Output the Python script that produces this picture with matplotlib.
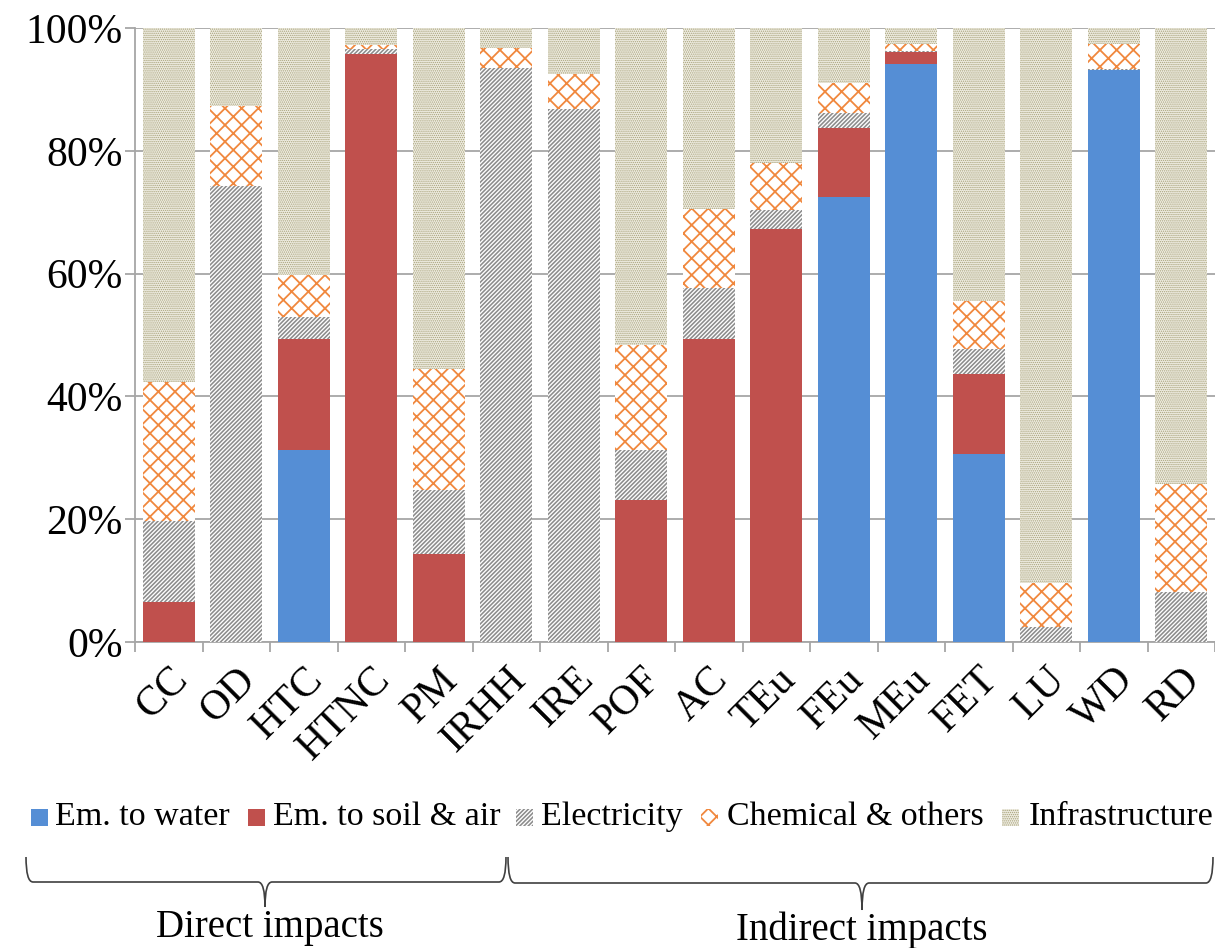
import matplotlib
matplotlib.use("Agg")
import matplotlib.pyplot as plt
import numpy as np
from matplotlib.path import Path
from matplotlib.patches import PathPatch, Rectangle

plt.rcParams['font.family'] = ['Liberation Serif', 'DejaVu Serif']

categories = ['CC', 'OD', 'HTC', 'HTNC', 'PM', 'IRHH', 'IRE', 'POF',
              'AC', 'TEu', 'FEu', 'MEu', 'FET', 'LU', 'WD', 'RD']

# contribution shares (%) per impact category
em_water = [0, 0, 31.2, 0, 0, 0, 0, 0, 0, 0, 72.4, 94.1, 30.7, 0, 93.2, 0]
em_soil_air = [6.5, 0, 18.2, 95.8, 14.3, 0, 0, 23.1, 49.4, 67.2, 11.3, 2.0, 12.9, 0, 0, 0]
electricity = [13.2, 74.3, 3.6, 0.8, 10.4, 93.5, 86.8, 8.1, 8.2, 3.2, 2.5, 0.2, 4.2, 2.4, 0.2, 8.1]
chemical = [22.6, 13.0, 6.7, 0.6, 19.7, 3.2, 5.7, 17.1, 13.0, 7.6, 4.9, 1.1, 7.8, 7.2, 4.0, 17.6]
infrastructure = [57.7, 12.7, 40.3, 2.8, 55.6, 3.3, 7.5, 51.7, 29.4, 22.0, 8.9, 2.6, 44.4, 90.4, 2.6, 74.3]

series_names = ['Em. to water', 'Em. to soil & air', 'Electricity',
                'Chemical & others', 'Infrastructure']
series_values = [em_water, em_soil_air, electricity, chemical, infrastructure]

styles = [
    dict(facecolor='#558ED5', edgecolor='#558ED5', hatch=None, hlw=1.0),
    dict(facecolor='#C0504D', edgecolor='#C0504D', hatch=None, hlw=1.0),
    dict(facecolor='white', edgecolor='#8C8C8C', hatch='////////', hlw=1.15),
    dict(facecolor='white', edgecolor='#F0883E', hatch='xx', hlw=1.3),
    dict(facecolor='#EEECE1', edgecolor='#A8A27A', hatch='........', hlw=0.65),
]

W, H = 1215, 948
fig = plt.figure(figsize=(W / 100, H / 100), dpi=100)
ax = fig.add_axes([135 / W, 1 - 642 / H, 1080 / W, 614 / H])

x = np.arange(len(categories))
bottom = np.zeros(len(categories))
for name, vals, st in zip(series_names, series_values, styles):
    vals = np.array(vals, dtype=float)
    with plt.rc_context({'hatch.linewidth': st['hlw']}):
        ax.bar(x, vals, width=0.77, bottom=bottom, facecolor=st['facecolor'],
               edgecolor=st['edgecolor'], hatch=st['hatch'], linewidth=0,
               zorder=3, label=name)
    bottom += vals

ax.set_xlim(-0.5, len(categories) - 0.5)
ax.set_ylim(0, 100)
ax.set_yticks(np.arange(0, 101, 20))
ax.set_yticklabels([f'{v}%' for v in range(0, 101, 20)])
ax.yaxis.grid(True, color='#A6A6A6', linewidth=1.3, zorder=0)
ax.set_axisbelow(True)

ax.set_xticks(x)
ax.set_xticklabels(categories, rotation=45, ha='right', va='top',
                   rotation_mode='anchor')
ax.set_xticks(np.arange(-0.5, len(categories)), minor=True)
ax.tick_params(axis='x', which='major', length=0, pad=13, labelsize=30)
ax.tick_params(axis='x', which='minor', length=7, color='#A6A6A6', width=1.3)
ax.tick_params(axis='y', length=7, color='#A6A6A6', width=1.3, pad=2, labelsize=30)

for side in ('top', 'right'):
    ax.spines[side].set_visible(False)
for side in ('left', 'bottom'):
    ax.spines[side].set_color('#A6A6A6')
    ax.spines[side].set_linewidth(1.3)

# legend row: small square keys followed by their labels
key_left = [31, 248, 516, 701, 1002]
text_left = [55, 273, 541, 727, 1029]
leg_y = 817
key = 17
for name, st, kx, tx in zip(series_names, styles, key_left, text_left):
    with plt.rc_context({'hatch.linewidth': st['hlw']}):
        fig.add_artist(Rectangle((kx / W, 1 - (leg_y + key / 2) / H), key / W, key / H,
                                 facecolor=st['facecolor'], edgecolor=st['edgecolor'],
                                 hatch=st['hatch'], linewidth=0,
                                 transform=fig.transFigure))
    fig.text(tx / W, 1 - leg_y / H, name, ha='left', va='center', fontsize=24.5)


def brace(x0, x1, xc, ytop, yline, ybot, r=7):
    pts = [(x0, ytop), (x0, yline), (x0 + r, yline),
           (xc - r, yline), (xc, yline), (xc, ybot),
           (xc, yline), (xc + r, yline),
           (x1 - r, yline), (x1, yline), (x1, ytop)]
    codes = [Path.MOVETO, Path.CURVE3, Path.CURVE3,
             Path.LINETO, Path.CURVE3, Path.CURVE3,
             Path.CURVE3, Path.CURVE3,
             Path.LINETO, Path.CURVE3, Path.CURVE3]
    verts = [(px / W, 1 - py / H) for px, py in pts]
    fig.add_artist(PathPatch(Path(verts, codes), facecolor='none',
                             edgecolor='#404040', linewidth=1.2,
                             transform=fig.transFigure))


brace(26, 506, 265, 857, 882, 907)
brace(508, 1213, 862, 857, 883, 910)

fig.text(270 / W, 1 - 928 / H, 'Direct impacts', ha='center', va='center', fontsize=28)
fig.text(862 / W, 1 - 930 / H, 'Indirect impacts', ha='center', va='center', fontsize=28)

fig.savefig('out.png', dpi=100)
